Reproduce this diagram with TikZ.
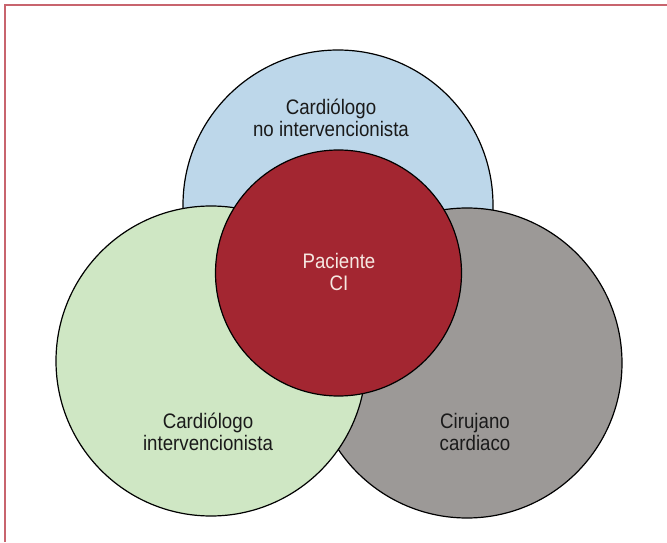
\documentclass[tikz,border=0pt]{standalone}
\usepackage{fontspec}
\setmainfont{Liberation Sans}[FakeStretch=0.89]
\definecolor{framered}{HTML}{C8646E}
\definecolor{cardblue}{HTML}{BDD7EA}
\definecolor{cardgreen}{HTML}{CFE7C4}
\definecolor{surggray}{HTML}{9C9997}
\definecolor{patred}{HTML}{A32631}
\definecolor{labelink}{HTML}{1A1A1A}
\definecolor{patink}{HTML}{F6E8E2}
\tikzset{
  disc/.style={circle, draw=black, line width=1.2pt, inner sep=0pt},
  caption/.style={align=center, text=labelink, font=\fontsize{21}{21.5}\selectfont},
}
\begin{document}
\begin{tikzpicture}[x=1pt,y=1pt]
    \useasboundingbox (0,0) rectangle (667,542);
    \draw[framered, line width=2pt] (5,0) -- (5,536.5) -- (667,536.5);
    \node[disc, fill=cardblue, minimum size=310pt] (nonint) at (338,337) {};
    \node[disc, fill=surggray, minimum size=310pt] (surgeon) at (467,179) {};
    \node[disc, fill=cardgreen, minimum size=310pt] (interv) at (211,181) {};
    \node[disc, fill=patred, minimum size=246pt] (patient) at (338.5,269) {};
    \node[caption] (nonintlabel) at (331,424) {Cardiólogo\\no intervencionista};
    \node[caption] (intervlabel) at (208,110) {Cardiólogo\\intervencionista};
    \node[caption] (surgeonlabel) at (475,110) {Cirujano\\cardiaco};
    \node[caption, text=patink] (patientlabel) at (339,270) {Paciente\\CI};
\end{tikzpicture}
\end{document}
